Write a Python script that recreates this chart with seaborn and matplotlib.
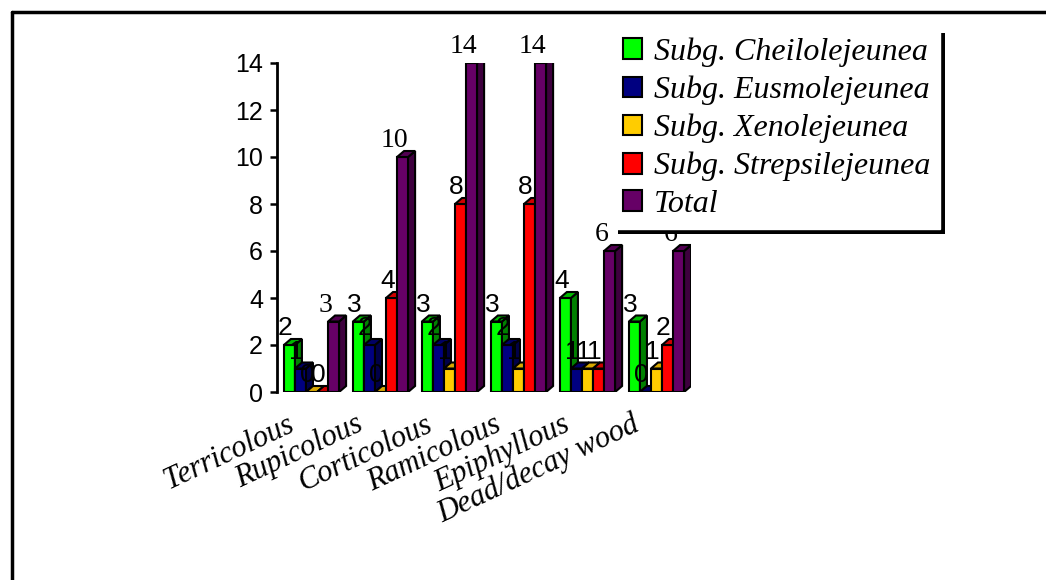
import numpy as np
import pandas as pd
import matplotlib
matplotlib.use("Agg")
import matplotlib.pyplot as plt
from matplotlib.patches import Polygon, Patch, Rectangle
from matplotlib.lines import Line2D
from matplotlib.transforms import ScaledTranslation
from matplotlib.font_manager import FontProperties
import seaborn as sns

# Habitat categories and number of species per subgenus
habitats = ["Terricolous", "Rupicolous", "Corticolous", "Ramicolous",
            "Epiphyllous", "Dead/decay wood"]
groups = ["Subg. Cheilolejeunea", "Subg. Eusmolejeunea", "Subg. Xenolejeunea",
          "Subg. Strepsilejeunea", "Total"]
cheilolejeunea = [2, 3, 3, 3, 4, 3]
eusmolejeunea = [1, 2, 2, 2, 1, 0]
xenolejeunea = [0, 0, 1, 1, 1, 1]
strepsilejeunea = [0, 4, 8, 8, 1, 2]
total = [3, 10, 14, 14, 6, 6]
y_ticks = [0, 2, 4, 6, 8, 10, 12, 14]

front_colors = ["#00ff00", "#000080", "#ffcc00", "#ff0000", "#660066"]
side_colors = ["#008000", "#000048", "#a88400", "#a00000", "#3e003e"]
top_colors = ["#00b800", "#000064", "#d8a800", "#d00000", "#520052"]

series = [cheilolejeunea, eusmolejeunea, xenolejeunea, strepsilejeunea, total]
df = pd.DataFrame({
    "habitat": habitats * len(groups),
    "group": [g for g in groups for _ in habitats],
    "count": [v for s in series for v in s],
})

sns.set_style("white")
plt.rcParams["font.family"] = ["Liberation Sans", "DejaVu Sans"]

W, H = 1046, 580
fig = plt.figure(figsize=(W / 100, H / 100), dpi=100)
ax = fig.add_axes([277 / W, (H - 392) / H, 414 / W, 329 / H])

sns.barplot(data=df, x="habitat", y="count", hue="group", order=habitats,
            hue_order=groups, palette=front_colors, saturation=1, width=0.8,
            edgecolor="black", linewidth=1.5, errorbar=None, legend=False, ax=ax)

ax.set_xlim(-0.5, len(habitats) - 0.5)
ax.set_ylim(0, 14)
ax.set_yticks(y_ticks)
ax.set_xlabel("")
ax.set_ylabel("")
for side in ["top", "right", "bottom"]:
    ax.spines[side].set_visible(False)
ax.spines["left"].set_linewidth(2)
ax.spines["left"].set_color("black")
ax.tick_params(axis="y", left=True, length=5, width=1.8, pad=5, labelsize=18,
               colors="black")
ax.tick_params(axis="x", bottom=False, length=0, pad=13, labelcolor="black")

# Rotated italic habitat names
ax.set_xticks(range(len(habitats)))
ax.set_xticklabels(habitats, rotation=25, ha="right", rotation_mode="anchor",
                   family="Liberation Serif", style="italic", fontsize=22,
                   color="black")
shift = ScaledTranslation(-25 / 100, 0, fig.dpi_scale_trans)
for lab in ax.get_xticklabels():
    lab.set_transform(lab.get_transform() + shift)

# Depth of the pseudo-3D faces, converted from pixels to data units
p0 = ax.transData.transform((0, 0))
p1 = ax.transData.transform((1, 1))
dx = 7 / (p1[0] - p0[0])
dy = 6 / (p1[1] - p0[1])

for k, cont in enumerate(ax.containers):
    base_z = 10 + 3 * k
    for bar in cont.patches:
        x0 = bar.get_x()
        w = bar.get_width()
        h = bar.get_height()
        x1 = x0 + w
        bar.set_zorder(base_z)
        side = Polygon([(x1, 0), (x1 + dx, dy), (x1 + dx, h + dy), (x1, h)],
                       closed=True, facecolor=side_colors[k], edgecolor="black",
                       linewidth=1.5, zorder=base_z + 1)
        top = Polygon([(x0, h), (x0 + dx, h + dy), (x1 + dx, h + dy), (x1, h)],
                      closed=True, facecolor=top_colors[k], edgecolor="black",
                      linewidth=1.5, zorder=base_z + 1)
        ax.add_patch(side)
        ax.add_patch(top)
        is_total = groups[k] == "Total"
        ax.annotate(f"{int(round(h))}", xy=(x0 + w / 2, h),
                    xytext=(-6 if is_total else -3, 7), textcoords="offset points",
                    ha="center", va="baseline",
                    fontsize=20 if is_total else 19,
                    family="Liberation Serif" if is_total else "Liberation Sans",
                    color="black", zorder=base_z + 2, annotation_clip=False)

# Legend with a solid drop shadow
handles = [Patch(facecolor=c, edgecolor="black", linewidth=1.5) for c in front_colors]
leg = fig.legend(handles, groups, loc="upper left",
                 bbox_to_anchor=(613 / W, 1 - 28 / H), frameon=True,
                 fancybox=False, edgecolor="white", framealpha=1,
                 prop=FontProperties(family="Liberation Serif", style="italic", size=23),
                 handlelength=0.62, handleheight=0.62, handletextpad=0.35,
                 labelspacing=0.27, borderpad=0.3, borderaxespad=0)
leg.set_zorder(6)
for t in leg.get_texts():
    t.set_color("black")
fig.canvas.draw()
bb = leg.get_window_extent()
fig.add_artist(Rectangle(((bb.x0 + 5) / W, (bb.y0 - 5) / H), bb.width / W,
                         bb.height / H, transform=fig.transFigure,
                         facecolor="black", edgecolor="none", zorder=5))

# Frame lines along the top and left edges of the picture
fig.add_artist(Line2D([12 / W, 1], [1 - 12 / H, 1 - 12 / H],
                      transform=fig.transFigure, color="black", linewidth=2.5))
fig.add_artist(Line2D([12 / W, 12 / W], [0, 1 - 12 / H],
                      transform=fig.transFigure, color="black", linewidth=2.5))

fig.savefig("out.png", dpi=100)
